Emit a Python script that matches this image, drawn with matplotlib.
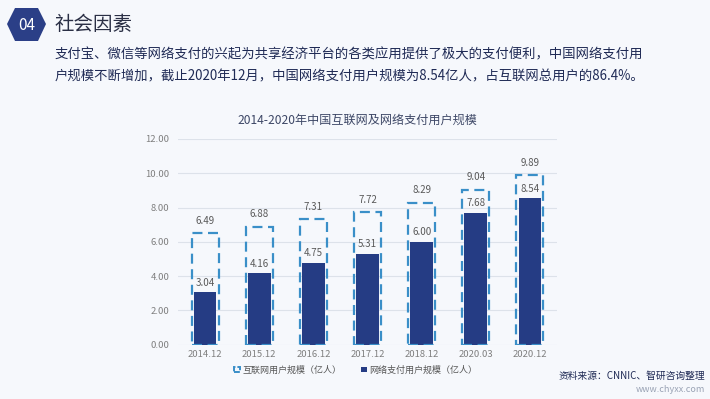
import matplotlib
matplotlib.use("Agg")
import matplotlib.pyplot as plt
from matplotlib.patches import Polygon, Rectangle
import numpy as np

plt.rcParams['font.family'] = ['Noto Sans CJK SC', 'DejaVu Sans']

categories = ["2014.12", "2015.12", "2016.12", "2017.12", "2018.12", "2020.03", "2020.12"]
internet_users = [6.49, 6.88, 7.31, 7.72, 8.29, 9.04, 9.89]
payment_users = [3.04, 4.16, 4.75, 5.31, 6.00, 7.68, 8.54]
yticks = [0, 2, 4, 6, 8, 10, 12]

W, H = 710, 399
fig = plt.figure(figsize=(W / 100, H / 100), dpi=100)
fig.patch.set_facecolor("#f6f8fc")

def fx(px):
    return px / W

def fy(py):
    return 1 - py / H

# header badge
hex_pts = [(7, 24), (15, 8), (38, 8), (46, 24), (38, 41), (15, 41)]
fig.patches.append(Polygon([(fx(a), fy(b)) for a, b in hex_pts], closed=True,
                           transform=fig.transFigure, facecolor="#2b3f87", edgecolor="none"))
fig.text(fx(26.5), fy(25), "04", color="white", fontsize=11, ha="center", va="center")
fig.text(fx(54), fy(24), "社会因素", color="#2a2f45", fontsize=14, ha="left", va="center")
fig.text(fx(55), fy(54), "支付宝、微信等网络支付的兴起为共享经济平台的各类应用提供了极大的支付便利，中国网络支付用",
         color="#1f2a55", fontsize=9.6, ha="left", va="center")
fig.text(fx(55), fy(76), "户规模不断增加，截止2020年12月，中国网络支付用户规模为8.54亿人，占互联网总用户的86.4%。",
         color="#1f2a55", fontsize=9.6, ha="left", va="center")

# chart title
fig.text(fx(357), fy(120), "2014-2020年中国互联网及网络支付用户规模", color="#3d4766",
         fontsize=8.7, ha="center", va="center")

ax = fig.add_axes([fx(178), fy(344.5), fx(557) - fx(178), fy(139) - fy(344.5)])
ax.set_facecolor("none")
x = np.arange(len(categories))

dash_color = "#3a8fc8"
bar_color = "#253c84"

ax.bar(x, internet_users, width=0.5, facecolor="none", edgecolor=dash_color,
       linewidth=1.6, linestyle=(0, (4.5, 2.5)), zorder=3)
ax.bar(x, payment_users, width=0.42, color=bar_color, zorder=2)

for xi, v in zip(x, internet_users):
    ax.annotate(f"{v:.2f}", (xi, v), xytext=(0, 9), textcoords="offset points",
                ha="center", va="center", fontsize=7, color="#595959")
for xi, v in zip(x, payment_users):
    ax.annotate(f"{v:.2f}", (xi, v), xytext=(0, 7), textcoords="offset points",
                ha="center", va="center", fontsize=7, color="#595959")

ax.set_xlim(-0.5, len(categories) - 0.5)
ax.set_ylim(0, 12)
ax.set_yticks(yticks)
ax.set_yticklabels([f"{t:.2f}" for t in yticks])
ax.set_xticks(x)
ax.set_xticklabels(categories)
ax.tick_params(axis="both", length=0, labelsize=6.8, labelcolor="#7f7f7f")
ax.tick_params(axis="y", pad=6)
ax.tick_params(axis="x", pad=4)
ax.grid(axis="y", color="#dde2ea", linewidth=0.8, zorder=0)
for s in ax.spines.values():
    s.set_visible(False)

# legend
h1 = Rectangle((0, 0), 1, 1, facecolor="none", edgecolor=dash_color, linewidth=1.4, linestyle=(0, (3, 1)))
h2 = Rectangle((0, 0), 1, 1, facecolor=bar_color, edgecolor="none")
fig.legend([h1, h2], ["互联网用户规模（亿人）", "网络支付用户规模（亿人）"],
           loc="center", bbox_to_anchor=(fx(356), fy(370)), ncol=2, frameon=False,
           fontsize=6.5, handlelength=0.6, handleheight=0.6, handletextpad=0.3,
           columnspacing=2.2, labelcolor="#555555")

fig.text(fx(705), fy(376), "资料来源：CNNIC、智研咨询整理", color="#1f2a55", fontsize=7,
         ha="right", va="center")
fig.text(fx(705), fy(390), "www.chyxx.com", color="#9aa3b5", fontsize=6.5,
         ha="right", va="center")

fig.savefig("out.png", dpi=100, facecolor=fig.get_facecolor())
